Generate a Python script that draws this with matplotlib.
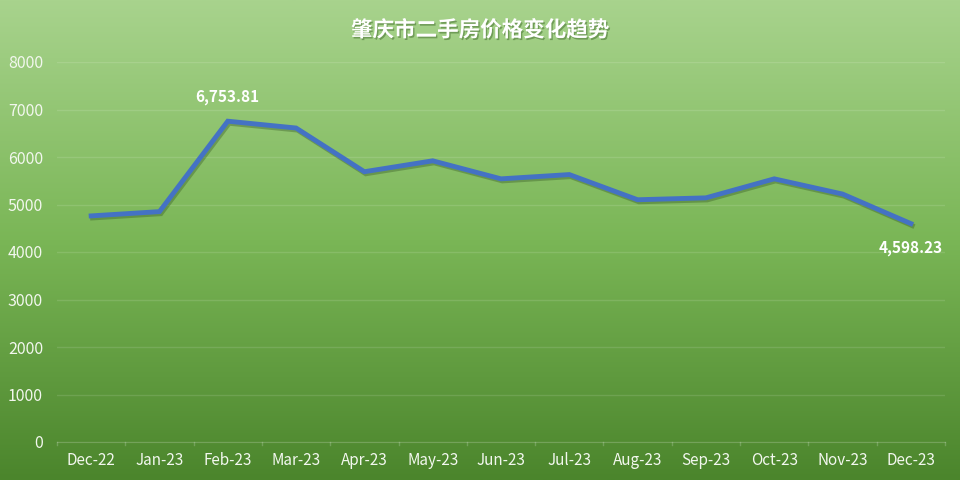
import matplotlib
matplotlib.use("Agg")
import matplotlib.pyplot as plt
import numpy as np
from matplotlib.colors import LinearSegmentedColormap
import matplotlib.patheffects as pe

plt.rcParams['font.family'] = ['Noto Sans CJK SC', 'DejaVu Sans']

months = ["Dec-22", "Jan-23", "Feb-23", "Mar-23", "Apr-23", "May-23", "Jun-23",
          "Jul-23", "Aug-23", "Sep-23", "Oct-23", "Nov-23", "Dec-23"]
prices = [4760, 4850, 6753.81, 6610, 5690, 5920, 5540, 5630, 5100, 5140, 5540, 5220, 4598.23]
title = "肇庆市二手房价格变化趋势"
yticks = [0, 1000, 2000, 3000, 4000, 5000, 6000, 7000, 8000]

fig = plt.figure(figsize=(9.6, 4.8), dpi=100)

# gradient background
bg = fig.add_axes([0, 0, 1, 1], zorder=0)
cmap = LinearSegmentedColormap.from_list("g", ["#4b852c", "#7ab656", "#a8d38d"])
grad = np.linspace(0, 1, 256).reshape(-1, 1)
bg.imshow(grad, aspect='auto', cmap=cmap, origin='lower', extent=[0, 1, 0, 1])
bg.axis('off')

ax = fig.add_axes([57/960, 1-442/480, (945-57)/960, (442-62)/480], zorder=1)
ax.patch.set_alpha(0)
x = np.arange(len(months))
ax.plot(x, prices, color="#4472c4", lw=3.5, solid_joinstyle='miter', zorder=3,
        path_effects=[pe.SimpleLineShadow(offset=(1, -1.5), shadow_color='#2f4f1f', alpha=0.35),
                      pe.Normal()])
ax.set_xlim(-0.5, len(months) - 0.5)
ax.set_ylim(0, 8000)
ax.set_yticks(yticks)
ax.set_xticks(x)
ax.set_xticklabels(months)
ax.grid(axis='y', color='#ffffff', alpha=0.12, lw=1)
ax.set_axisbelow(True)
for s in ['top', 'right', 'left']:
    ax.spines[s].set_visible(False)
ax.spines['bottom'].set_color('#ffffff')
ax.spines['bottom'].set_alpha(0.2)
ax.tick_params(axis='y', length=0, labelsize=11.5, labelcolor='#f2f7ee', pad=10)
ax.tick_params(axis='x', length=0, labelsize=11, labelcolor='#f2f7ee', pad=7)
# boundary tick marks
for b in np.arange(-0.5, len(months), 1):
    ax.plot([b, b], [0, -60], color='#ffffff', alpha=0.2, lw=1, clip_on=False)

# data labels
ax.annotate(f"{prices[2]:,.2f}", (x[2], prices[2]), xytext=(0, 12), textcoords='offset points',
            ha='center', va='bottom', color='white', fontsize=11, fontweight='bold')
ax.annotate(f"{prices[-1]:,.2f}", (x[-1], prices[-1]), xytext=(0, -12), textcoords='offset points',
            ha='center', va='top', color='white', fontsize=11, fontweight='bold')

fig.text(0.5, 1-30/480, title, ha='center', va='center', color='white', fontsize=15.5,
         fontweight='bold', zorder=5,
         path_effects=[pe.withSimplePatchShadow(offset=(1, -1.2), shadow_rgbFace='#3f6a2a', alpha=0.5)])

fig.savefig("out.png", dpi=100)
